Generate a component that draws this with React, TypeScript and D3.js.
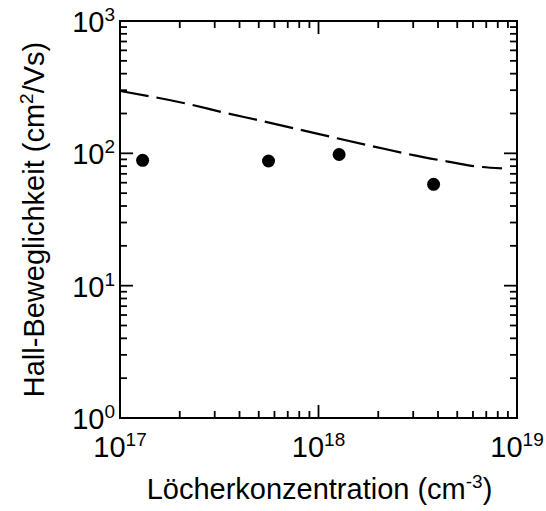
import React from "react";
import * as d3 from "d3";

const xDomain: [number, number] = [1e17, 1e19];
const yDomain: [number, number] = [1, 1000];
const xMajorExps = [17, 18, 19];
const yMajorExps = [0, 1, 2, 3];

// Measured points (Hall mobility vs hole concentration)
const pointX = [1.3e17, 5.6e17, 1.27e18, 3.8e18];
const pointY = [88.5, 87.5, 98, 58.3];

// Dashed model curve
const curveX = [1e17, 2.12e17, 3.31e17, 5.15e17, 7.91e17, 1.24e18, 1.93e18, 3.0e18, 4.5e18, 5.9e18, 8.4e18];
const curveY = [296, 239, 204, 176, 152, 130, 112, 97, 86.5, 80.5, 77];

const xTitle = "Löcherkonzentration (cm";
const yTitle = "Hall-Beweglichkeit (cm";

const W = 546, H = 511;
const M = { left: 120, right: 517, top: 21, bottom: 418 };
const FONT = "'Liberation Sans', Arial, Helvetica, sans-serif";
const FS = 29;
const SUP = 19;

export default function App() {
  const x = d3.scaleLog().domain(xDomain).range([M.left, M.right]);
  const y = d3.scaleLog().domain(yDomain).range([M.bottom, M.top]);

  const minorX: number[] = [];
  for (let e = 17; e < 19; e++) for (let k = 2; k <= 9; k++) minorX.push(k * Math.pow(10, e));
  const minorY: number[] = [];
  for (let e = 0; e < 3; e++) for (let k = 2; k <= 9; k++) minorY.push(k * Math.pow(10, e));

  const line = d3
    .line<number>()
    .x((_, i) => x(curveX[i]))
    .y((d) => y(d))
    .curve(d3.curveMonotoneX);

  const majL = 13, minL = 7;
  const sw = 1.8;

  return (
    <svg width={W} height={H} style={{ position: "absolute", left: 0, top: 0 }} fontFamily={FONT}>
      <rect x={0} y={0} width={W} height={H} fill="#fff" />
      {/* ticks */}
      <g stroke="#000" strokeWidth={sw}>
        {xMajorExps.map((e) => {
          const px = x(Math.pow(10, e));
          return (
            <g key={"xm" + e}>
              <line x1={px} x2={px} y1={M.bottom} y2={M.bottom - majL} />
              <line x1={px} x2={px} y1={M.top} y2={M.top + majL} />
            </g>
          );
        })}
        {minorX.map((v, i) => {
          const px = x(v);
          return (
            <g key={"xn" + i}>
              <line x1={px} x2={px} y1={M.bottom} y2={M.bottom - minL} />
              <line x1={px} x2={px} y1={M.top} y2={M.top + minL} />
            </g>
          );
        })}
        {yMajorExps.map((e) => {
          const py = y(Math.pow(10, e));
          return (
            <g key={"ym" + e}>
              <line x1={M.left} x2={M.left + majL} y1={py} y2={py} />
              <line x1={M.right} x2={M.right - majL} y1={py} y2={py} />
            </g>
          );
        })}
        {minorY.map((v, i) => {
          const py = y(v);
          return (
            <g key={"yn" + i}>
              <line x1={M.left} x2={M.left + minL} y1={py} y2={py} />
              <line x1={M.right} x2={M.right - minL} y1={py} y2={py} />
            </g>
          );
        })}
      </g>
      <rect
        x={M.left}
        y={M.top}
        width={M.right - M.left}
        height={M.bottom - M.top}
        fill="none"
        stroke="#000"
        strokeWidth={2}
      />
      {/* curve */}
      <path d={line(curveY) || ""} fill="none" stroke="#000" strokeWidth={2.2} strokeDasharray="29,8" />
      {/* points */}
      {pointX.map((v, i) => (
        <circle key={"p" + i} cx={x(v)} cy={y(pointY[i])} r={6.5} fill="#000" />
      ))}
      {/* x tick labels */}
      {xMajorExps.map((e) => (
        <text key={"xl" + e} x={x(Math.pow(10, e))} y={457} textAnchor="middle" fontSize={FS} fill="#000">
          10
          <tspan fontSize={SUP} dy={-11}>
            {e}
          </tspan>
        </text>
      ))}
      {/* y tick labels */}
      {yMajorExps.map((e) => (
        <text key={"yl" + e} x={115} y={y(Math.pow(10, e)) + 11} textAnchor="end" fontSize={FS} fill="#000">
          10
          <tspan fontSize={SUP} dy={-11}>
            {e}
          </tspan>
        </text>
      ))}
      {/* x title */}
      <text x={(M.left + M.right) / 2 + 1} y={499} textAnchor="middle" fontSize={FS} fill="#000">
        {xTitle}
        <tspan fontSize={SUP} dy={-11}>-3</tspan>
        <tspan dy={11}>)</tspan>
      </text>
      {/* y title */}
      <text
        transform={`translate(44, ${(M.top + M.bottom) / 2}) rotate(-90)`}
        textAnchor="middle"
        fontSize={FS}
        fill="#000"
      >
        {yTitle}
        <tspan fontSize={SUP} dy={-11}>2</tspan>
        <tspan dy={11}>/Vs)</tspan>
      </text>
    </svg>
  );
}
